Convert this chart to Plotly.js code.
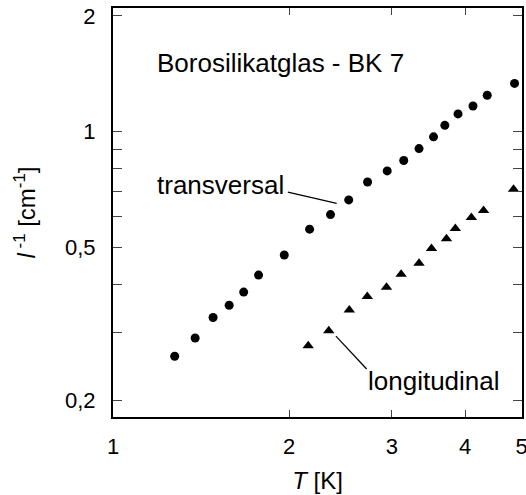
<!DOCTYPE html>
<html>
<head>
<meta charset="utf-8">
<script src="https://cdn.plot.ly/plotly-3.0.1.min.js"></script>
<style>html,body{margin:0;padding:0;background:#fff;}#chart{width:526px;height:495px;}</style>
</head>
<body>
<div id="chart"></div>
<script>
// transversal data (circles)
const transT = [1.275,1.382,1.483,1.580,1.673,1.774,1.963,2.169,2.355,2.530,2.725,2.944,3.142,3.337,3.533,3.694,3.891,4.127,4.365,4.861];
const transL = [0.260,0.290,0.328,0.353,0.382,0.423,0.477,0.557,0.608,0.664,0.739,0.790,0.841,0.903,0.969,1.038,1.112,1.166,1.243,1.335];
// longitudinal data (triangles)
const longT = [2.157,2.339,2.536,2.722,2.936,3.110,3.337,3.505,3.718,3.850,4.101,4.303,4.842];
const longL = [0.277,0.303,0.343,0.372,0.393,0.425,0.454,0.496,0.526,0.559,0.597,0.623,0.708];
// leader lines for labels
const transLeaderT = [1.991,2.413];
const transLeaderL = [0.6955,0.650];
const longLeaderT = [2.406,2.715];
const longLeaderL = [0.2934,0.2408];
// ticks
const xTickVals = [1,2,3,4,5];
const xTickText = ['1','2','3','4','5'];
const yTickVals = [0.2,0.3,0.4,0.5,0.6,0.7,0.8,0.9,1,2];
const yTickText = ['0,2','','','0,5','','','','','1','2'];
// texts
const chartLabel = 'Borosilikatglas - BK 7';
const transLabel = 'transversal';
const longLabel = 'longitudinal';

const font = 'Liberation Sans, Arial, Helvetica, sans-serif';

const traces = [
  {x: transT, y: transL, mode: 'markers', type: 'scatter',
   marker: {symbol: 'circle', size: 9, color: '#000'}, hoverinfo: 'skip', cliponaxis: false},
  {x: longT, y: longL, mode: 'markers', type: 'scatter',
   marker: {symbol: 'triangle-up', size: 10, color: '#000'}, hoverinfo: 'skip', cliponaxis: false},
  {x: transLeaderT, y: transLeaderL, mode: 'lines', type: 'scatter',
   line: {color: '#000', width: 1.3}, hoverinfo: 'skip'},
  {x: longLeaderT, y: longLeaderL, mode: 'lines', type: 'scatter',
   line: {color: '#000', width: 1.3}, hoverinfo: 'skip'}
];

const layout = {
  width: 526, height: 495,
  margin: {l: 113, r: 4, t: 8, b: 78},
  paper_bgcolor: '#fff', plot_bgcolor: '#fff',
  showlegend: false,
  font: {family: font, color: '#000', size: 22},
  xaxis: {
    type: 'log', range: [0, Math.log10(5) + 0.0005],
    tickvals: xTickVals, ticktext: xTickText, ticklabeloverflow: 'allow',
    ticks: 'inside', ticklen: 7, tickwidth: 1, tickcolor: '#444',
    showline: true, linecolor: '#000', linewidth: 2, mirror: 'ticks',
    showgrid: false, zeroline: false,
    tickfont: {size: 22, family: font}, ticklabelstandoff: 9,
    title: {text: '<i>T</i> [K]', font: {size: 24, family: font}, standoff: 14}
  },
  yaxis: {
    type: 'log', range: [-0.7432, 0.3218],
    tickvals: yTickVals, ticktext: yTickText, ticklabeloverflow: 'allow',
    ticks: 'inside', ticklen: 9, tickwidth: 1, tickcolor: '#444',
    showline: true, linecolor: '#000', linewidth: 2, mirror: 'ticks',
    showgrid: false, zeroline: false,
    tickfont: {size: 22, family: font}, ticklabelstandoff: 11,
    title: {text: '<i>l</i><sup> -1</sup> [cm<sup>-1</sup>]', font: {size: 24, family: font}, standoff: 23}
  },
  annotations: [
    {xref: 'paper', yref: 'paper', x: 0.1027, y: (417 - 63) / 409, xanchor: 'left', yanchor: 'middle',
     text: chartLabel, showarrow: false, font: {size: 26, family: font}},
    {xref: 'paper', yref: 'paper', x: 0.1027, y: (417 - 185) / 409, xanchor: 'left', yanchor: 'middle',
     text: transLabel, showarrow: false, font: {size: 26, family: font}},
    {xref: 'paper', yref: 'paper', x: (366 - 113) / 409, y: (417 - 381) / 409, xanchor: 'left', yanchor: 'middle',
     text: longLabel, showarrow: false, font: {size: 26, family: font}}
  ]
};

Plotly.newPlot('chart', traces, layout, {staticPlot: true, displayModeBar: false});
</script>
</body>
</html>
